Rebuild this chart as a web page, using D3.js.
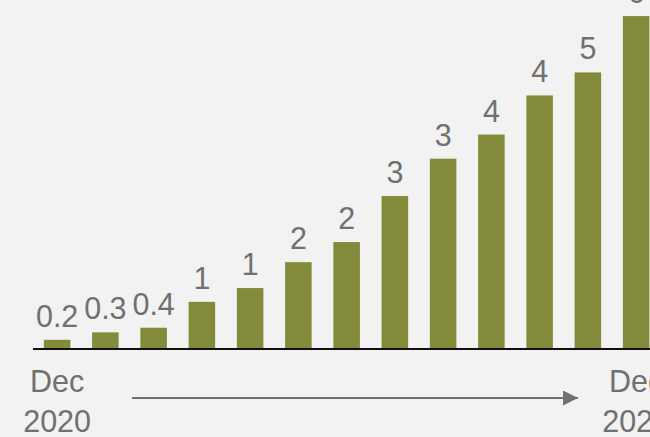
<!DOCTYPE html>
<html>
<head>
<meta charset="utf-8">
<script src="https://cdn.jsdelivr.net/npm/d3@7"></script>
<style>
  html, body { margin: 0; padding: 0; background: #f2f2f2; overflow: hidden; }
  svg { display: block; }
</style>
</head>
<body>
<svg id="chart" width="650" height="437"></svg>
<script>
// Monthly values, December 2020 through December 2021
const months = ["Dec 2020", "Jan 2021", "Feb 2021", "Mar 2021", "Apr 2021", "May 2021",
                "Jun 2021", "Jul 2021", "Aug 2021", "Sep 2021", "Oct 2021", "Nov 2021", "Dec 2021"];
const values = [0.16, 0.29, 0.37, 0.82, 1.06, 1.51, 1.86, 2.66, 3.31, 3.73, 4.41, 4.81, 5.79];
const endLabels = [["Dec", "2020"], ["Dec", "2021"]];

const svg = d3.select("#chart");
const baseY = 349;
const fontSize = 30.5;

const x = d3.scaleBand()
  .domain(months)
  .range([33, 660.25])
  .paddingInner(0.45)
  .paddingOuter(0.225);

const y = d3.scaleLinear()
  .domain([0, 6])
  .range([baseY, 4]);

// value labels: one decimal for small values, whole numbers otherwise
const fmt = v => v < 0.5 ? d3.format(".1f")(v) : d3.format(".0f")(v);

svg.append("g")
  .selectAll("rect")
  .data(values)
  .join("rect")
  .attr("x", (d, i) => x(months[i]))
  .attr("y", d => y(d))
  .attr("width", x.bandwidth())
  .attr("height", d => baseY - y(d))
  .attr("fill", "#838a3a");

svg.append("g")
  .selectAll("text")
  .data(values)
  .join("text")
  .attr("x", (d, i) => x(months[i]) + x.bandwidth() / 2)
  .attr("y", d => y(d) - 13)
  .attr("text-anchor", "middle")
  .attr("font-family", "Liberation Sans, Arial, sans-serif")
  .attr("font-size", fontSize)
  .attr("fill", "#707070")
  .text(d => fmt(d));

// category axis line
svg.append("line")
  .attr("x1", x.range()[0])
  .attr("x2", x.range()[1])
  .attr("y1", baseY)
  .attr("y2", baseY)
  .attr("stroke", "#111")
  .attr("stroke-width", 2);

// start and end labels
const ends = [months[0], months[months.length - 1]];
ends.forEach((m, i) => {
  const cx = x(m) + x.bandwidth() / 2;
  const t = svg.append("text")
    .attr("x", cx)
    .attr("y", 391.5)
    .attr("text-anchor", "middle")
    .attr("font-family", "Liberation Sans, Arial, sans-serif")
    .attr("font-size", fontSize)
    .attr("fill", "#707070");
  t.append("tspan").attr("x", cx).text(endLabels[i][0]);
  t.append("tspan").attr("x", cx).attr("dy", 40).text(endLabels[i][1]);
});

// time arrow
svg.append("defs").append("marker")
  .attr("id", "arrowhead")
  .attr("viewBox", "0 0 10 10")
  .attr("refX", 10)
  .attr("refY", 5)
  .attr("markerUnits", "userSpaceOnUse")
  .attr("markerWidth", 15)
  .attr("markerHeight", 15)
  .attr("orient", "auto")
  .append("path")
  .attr("d", "M0,0 L10,5 L0,10 Z")
  .attr("fill", "#707070");

svg.append("line")
  .attr("x1", 132)
  .attr("x2", 578)
  .attr("y1", 398)
  .attr("y2", 398)
  .attr("stroke", "#707070")
  .attr("stroke-width", 2)
  .attr("marker-end", "url(#arrowhead)");
</script>
</body>
</html>
